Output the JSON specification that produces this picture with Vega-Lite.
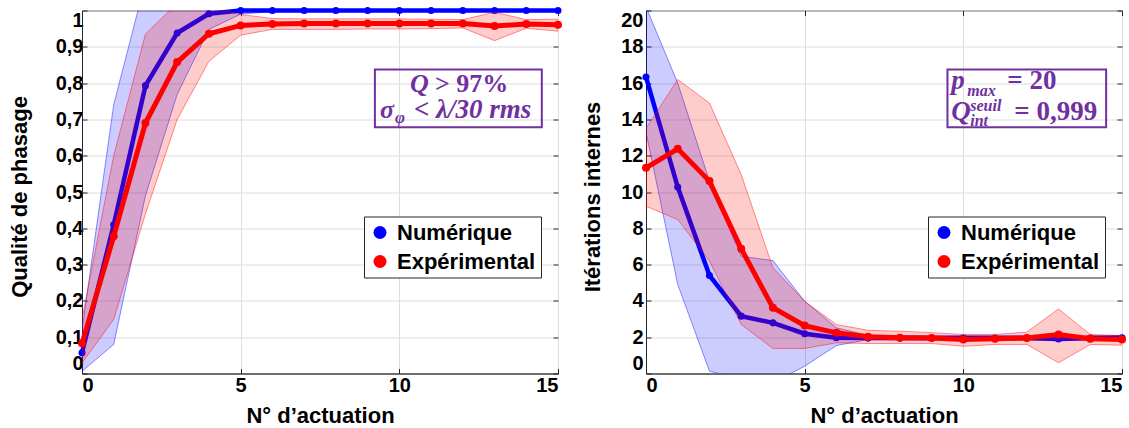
{
  "$schema": "https://vega.github.io/schema/vega-lite/v6.json",
  "background": "white",
  "padding": {"left": 7, "top": 0.5, "right": 0, "bottom": 0},
  "autosize": {"type": "pad"},
  "bounds": "flush",
  "spacing": 88,
  "config": {
    "font": "Liberation Sans",
    "view": {"stroke": "#262626", "strokeWidth": 1},
    "axis": {
      "labelFont": "Liberation Sans", "labelFontWeight": "bold", "labelFontSize": 20, "labelColor": "#000000",
      "titleFont": "Liberation Sans", "titleFontWeight": "bold", "titleFontSize": 22, "titleColor": "#000000",
      "gridColor": "#DEDEDE", "gridWidth": 1, "domainColor": "#262626", "tickColor": "#262626",
      "tickSize": -5, "labelFlush": true, "labelOverlap": false
    },
    "legend": {
      "orient": "none", "legendX": 282, "legendY": 206,
      "labelFont": "Liberation Sans", "labelFontWeight": "bold", "labelFontSize": 22, "labelColor": "#000000",
      "symbolType": "circle", "symbolSize": 169, "symbolStrokeWidth": 0, "symbolOpacity": 1,
      "strokeColor": "#262626", "fillColor": "white", "padding": 5, "rowPadding": 7, "labelOffset": 6, "cornerRadius": 0
    }
  },
  "datasets": {
    "qual": [
      {"serie": "Numérique", "n": 0, "moy": 0.057, "bas": 0.006, "haut": 0.12},
      {"serie": "Numérique", "n": 1, "moy": 0.41, "bas": 0.08, "haut": 0.741},
      {"serie": "Numérique", "n": 2, "moy": 0.793, "bas": 0.49, "haut": 1.08},
      {"serie": "Numérique", "n": 3, "moy": 0.938, "bas": 0.769, "haut": 1.05},
      {"serie": "Numérique", "n": 4, "moy": 0.991, "bas": 0.948, "haut": 1.03},
      {"serie": "Numérique", "n": 5, "moy": 1.0, "bas": 0.99, "haut": 1.01},
      {"serie": "Numérique", "n": 6, "moy": 1.0, "bas": 0.997, "haut": 1.003},
      {"serie": "Numérique", "n": 7, "moy": 1.0, "bas": 0.997, "haut": 1.003},
      {"serie": "Numérique", "n": 8, "moy": 1.0, "bas": 0.997, "haut": 1.003},
      {"serie": "Numérique", "n": 9, "moy": 1.0, "bas": 0.997, "haut": 1.003},
      {"serie": "Numérique", "n": 10, "moy": 1.0, "bas": 0.997, "haut": 1.003},
      {"serie": "Numérique", "n": 11, "moy": 1.0, "bas": 0.997, "haut": 1.003},
      {"serie": "Numérique", "n": 12, "moy": 1.0, "bas": 0.997, "haut": 1.003},
      {"serie": "Numérique", "n": 13, "moy": 1.0, "bas": 0.997, "haut": 1.003},
      {"serie": "Numérique", "n": 14, "moy": 1.0, "bas": 0.997, "haut": 1.003},
      {"serie": "Numérique", "n": 15, "moy": 1.0, "bas": 0.997, "haut": 1.003},
      {"serie": "Expérimental", "n": 0, "moy": 0.083, "bas": 0.029, "haut": 0.15},
      {"serie": "Expérimental", "n": 1, "moy": 0.378, "bas": 0.149, "haut": 0.6},
      {"serie": "Expérimental", "n": 2, "moy": 0.69, "bas": 0.44, "haut": 0.935},
      {"serie": "Expérimental", "n": 3, "moy": 0.858, "bas": 0.7, "haut": 1.02},
      {"serie": "Expérimental", "n": 4, "moy": 0.936, "bas": 0.86, "haut": 1.01},
      {"serie": "Expérimental", "n": 5, "moy": 0.959, "bas": 0.932, "haut": 0.989},
      {"serie": "Expérimental", "n": 6, "moy": 0.963, "bas": 0.948, "haut": 0.978},
      {"serie": "Expérimental", "n": 7, "moy": 0.964, "bas": 0.948, "haut": 0.977},
      {"serie": "Expérimental", "n": 8, "moy": 0.964, "bas": 0.948, "haut": 0.977},
      {"serie": "Expérimental", "n": 9, "moy": 0.964, "bas": 0.949, "haut": 0.977},
      {"serie": "Expérimental", "n": 10, "moy": 0.964, "bas": 0.949, "haut": 0.977},
      {"serie": "Expérimental", "n": 11, "moy": 0.964, "bas": 0.95, "haut": 0.976},
      {"serie": "Expérimental", "n": 12, "moy": 0.964, "bas": 0.952, "haut": 0.975},
      {"serie": "Expérimental", "n": 13, "moy": 0.957, "bas": 0.917, "haut": 0.995},
      {"serie": "Expérimental", "n": 14, "moy": 0.963, "bas": 0.951, "haut": 0.975},
      {"serie": "Expérimental", "n": 15, "moy": 0.961, "bas": 0.943, "haut": 0.976}
    ],
    "iter": [
      {"serie": "Numérique", "n": 0, "moy": 16.33, "bas": 13.3, "haut": 20.2},
      {"serie": "Numérique", "n": 1, "moy": 10.27, "bas": 4.9, "haut": 16.0},
      {"serie": "Numérique", "n": 2, "moy": 5.4, "bas": 0.13, "haut": 10.6},
      {"serie": "Numérique", "n": 3, "moy": 3.16, "bas": -0.3, "haut": 6.46},
      {"serie": "Numérique", "n": 4, "moy": 2.79, "bas": -0.5, "haut": 6.22},
      {"serie": "Numérique", "n": 5, "moy": 2.19, "bas": 0.4, "haut": 3.98},
      {"serie": "Numérique", "n": 6, "moy": 1.97, "bas": 1.54, "haut": 2.52},
      {"serie": "Numérique", "n": 7, "moy": 1.95, "bas": 1.87, "haut": 2.1},
      {"serie": "Numérique", "n": 8, "moy": 1.95, "bas": 1.85, "haut": 2.08},
      {"serie": "Numérique", "n": 9, "moy": 1.95, "bas": 1.85, "haut": 2.08},
      {"serie": "Numérique", "n": 10, "moy": 1.95, "bas": 1.85, "haut": 2.08},
      {"serie": "Numérique", "n": 11, "moy": 1.95, "bas": 1.85, "haut": 2.08},
      {"serie": "Numérique", "n": 12, "moy": 1.95, "bas": 1.85, "haut": 2.08},
      {"serie": "Numérique", "n": 13, "moy": 1.9, "bas": 1.8, "haut": 2.0},
      {"serie": "Numérique", "n": 14, "moy": 1.95, "bas": 1.85, "haut": 2.08},
      {"serie": "Numérique", "n": 15, "moy": 1.97, "bas": 1.85, "haut": 2.1},
      {"serie": "Expérimental", "n": 0, "moy": 11.33, "bas": 9.22, "haut": 13.5},
      {"serie": "Expérimental", "n": 1, "moy": 12.38, "bas": 8.48, "haut": 16.2},
      {"serie": "Expérimental", "n": 2, "moy": 10.6, "bas": 6.2, "haut": 14.9},
      {"serie": "Expérimental", "n": 3, "moy": 6.87, "bas": 2.7, "haut": 10.96},
      {"serie": "Expérimental", "n": 4, "moy": 3.62, "bas": 1.38, "haut": 5.82},
      {"serie": "Expérimental", "n": 5, "moy": 2.64, "bas": 1.38, "haut": 3.98},
      {"serie": "Expérimental", "n": 6, "moy": 2.24, "bas": 1.69, "haut": 2.7},
      {"serie": "Expérimental", "n": 7, "moy": 2.02, "bas": 1.65, "haut": 2.38},
      {"serie": "Expérimental", "n": 8, "moy": 1.97, "bas": 1.65, "haut": 2.33},
      {"serie": "Expérimental", "n": 9, "moy": 1.95, "bas": 1.65, "haut": 2.25},
      {"serie": "Expérimental", "n": 10, "moy": 1.87, "bas": 1.5, "haut": 2.15},
      {"serie": "Expérimental", "n": 11, "moy": 1.92, "bas": 1.6, "haut": 2.15},
      {"serie": "Expérimental", "n": 12, "moy": 1.95, "bas": 1.6, "haut": 2.28},
      {"serie": "Expérimental", "n": 13, "moy": 2.15, "bas": 0.59, "haut": 3.56},
      {"serie": "Expérimental", "n": 14, "moy": 1.91, "bas": 1.6, "haut": 2.15},
      {"serie": "Expérimental", "n": 15, "moy": 1.87, "bas": 1.56, "haut": 2.09}
    ]
  },
  "resolve": {"scale": {"color": "independent"}},
  "hconcat": [
    {
      "width": 476, "height": 363,
      "resolve": {"axis": {"x": "independent", "y": "independent"}},
      "layer": [
        {
          "data": {"name": "qual"},
          "encoding": {
            "x": {"field": "n", "type": "quantitative", "scale": {"domain": [0, 15], "nice": false},
              "axis": {"title": "N° d’actuation", "values": [0, 5, 10, 15], "tickCount": 20, "format": "d", "labelPadding": 7, "titleY": 48.5, "titleBaseline": "alphabetic"}}
          },
          "layer": [
            {
              "transform": [{"filter": "datum.serie === 'Numérique'"}],
              "mark": {"type": "area", "fill": "#0000FF", "fillOpacity": 0.2, "stroke": "#0000FF", "strokeWidth": 0.8, "strokeOpacity": 0.55, "clip": true},
              "encoding": {
                "y": {"field": "haut", "type": "quantitative", "scale": {"domain": [0, 1], "nice": false, "zero": false},
                  "axis": {"title": "Qualité de phasage", "values": [0, 0.1, 0.2, 0.3, 0.4, 0.5, 0.6, 0.7, 0.8, 0.9, 1], "tickCount": 20, "labelOverlap": false,
                    "labelExpr": "replace(format(datum.value, '.1~f'), '.', ',')", "labelPadding": 4,
                    "titleX": -56, "titleY": 186, "titleAngle": 270, "titleBaseline": "alphabetic", "titleAlign": "center"}},
                "y2": {"field": "bas"}
              }
            },
            {
              "transform": [{"filter": "datum.serie === 'Numérique'"}],
              "mark": {"type": "line", "stroke": "#0000FF", "strokeWidth": 4.5},
              "encoding": {"y": {"field": "moy", "type": "quantitative", "title": "Qualité de phasage"}}
            },
            {
              "transform": [{"filter": "datum.serie === 'Numérique'"}],
              "mark": {"type": "point", "shape": "circle", "filled": true, "size": 50, "opacity": 1},
              "encoding": {
                "y": {"field": "moy", "type": "quantitative", "title": "Qualité de phasage"},
                "color": {"field": "serie", "type": "nominal", "scale": {"domain": ["Numérique", "Expérimental"], "range": ["#0000FF", "#FF0000"]}, "legend": {"title": null}}
              }
            },
            {
              "transform": [{"filter": "datum.serie === 'Expérimental'"}],
              "mark": {"type": "area", "fill": "#FF0000", "fillOpacity": 0.2, "stroke": "#FF0000", "strokeWidth": 0.8, "strokeOpacity": 0.55, "clip": true},
              "encoding": {"y": {"field": "haut", "type": "quantitative", "title": "Qualité de phasage"}, "y2": {"field": "bas"}}
            },
            {
              "transform": [{"filter": "datum.serie === 'Expérimental'"}],
              "mark": {"type": "line", "stroke": "#FF0000", "strokeWidth": 5},
              "encoding": {"y": {"field": "moy", "type": "quantitative", "title": "Qualité de phasage"}}
            },
            {
              "transform": [{"filter": "datum.serie === 'Expérimental'"}],
              "mark": {"type": "point", "shape": "circle", "filled": true, "size": 64, "opacity": 1},
              "encoding": {
                "y": {"field": "moy", "type": "quantitative", "title": "Qualité de phasage"},
                "color": {"field": "serie", "type": "nominal", "scale": {"domain": ["Numérique", "Expérimental"], "range": ["#0000FF", "#FF0000"]}, "legend": {"title": null}}
              }
            }
          ]
        },
        {
          "data": {"values": [{}]},
          "mark": {"type": "rect", "fillOpacity": 0, "fill": "white", "stroke": "#7030A0", "strokeWidth": 2},
          "encoding": {
            "x": {"datum": 9.23, "axis": {"orient": "top", "labels": false, "title": null, "grid": false, "domain": false, "values": [0, 5, 10, 15], "tickCount": 20}},
            "x2": {"datum": 14.49},
            "y": {"datum": 0.8375, "axis": {"orient": "right", "labels": false, "title": null, "grid": false, "domain": false, "values": [0, 0.1, 0.2, 0.3, 0.4, 0.5, 0.6, 0.7, 0.8, 0.9, 1], "tickCount": 20}},
            "y2": {"datum": 0.6785}
          }
        },
        {
          "data": {"values": [{}]},
          "mark": {"type": "text", "text": "Q", "font": "Liberation Serif", "fontWeight": "bold", "fontStyle": "italic", "fontSize": 26, "color": "#7030A0", "align": "left", "baseline": "alphabetic", "dx": 30},
          "encoding": {"x": {"datum": 9.39, "axis": null}, "y": {"datum": 0.775, "axis": null}}
        },
        {
          "data": {"values": [{}]},
          "mark": {"type": "text", "text": "> 97%", "font": "Liberation Serif", "fontWeight": "bold", "fontSize": 26, "color": "#7030A0", "align": "left", "baseline": "alphabetic", "dx": 55},
          "encoding": {"x": {"datum": 9.39, "axis": null}, "y": {"datum": 0.775, "axis": null}}
        },
        {
          "data": {"values": [{}]},
          "mark": {"type": "text", "text": "σ", "font": "Liberation Serif", "fontWeight": "bold", "fontStyle": "italic", "fontSize": 26, "color": "#7030A0", "align": "left", "baseline": "alphabetic", "dx": 0},
          "encoding": {"x": {"datum": 9.39, "axis": null}, "y": {"datum": 0.704, "axis": null}}
        },
        {
          "data": {"values": [{}]},
          "mark": {"type": "text", "text": "φ", "font": "Liberation Serif", "fontWeight": "bold", "fontStyle": "italic", "fontSize": 17, "color": "#7030A0", "align": "left", "baseline": "alphabetic", "dx": 15},
          "encoding": {"x": {"datum": 9.39, "axis": null}, "y": {"datum": 0.689, "axis": null}}
        },
        {
          "data": {"values": [{}]},
          "mark": {"type": "text", "text": "< λ/30 rms", "font": "Liberation Serif", "fontWeight": "bold", "fontStyle": "italic", "fontSize": 27, "color": "#7030A0", "align": "left", "baseline": "alphabetic", "dx": 34},
          "encoding": {"x": {"datum": 9.39, "axis": null}, "y": {"datum": 0.704, "axis": null}}
        }
      ]
    },
    {
      "width": 476, "height": 363,
      "resolve": {"axis": {"x": "independent", "y": "independent"}},
      "layer": [
        {
          "data": {"name": "iter"},
          "encoding": {
            "x": {"field": "n", "type": "quantitative", "scale": {"domain": [0, 15], "nice": false},
              "axis": {"title": "N° d’actuation", "values": [0, 5, 10, 15], "tickCount": 20, "format": "d", "labelPadding": 7, "titleY": 48.5, "titleBaseline": "alphabetic"}}
          },
          "layer": [
            {
              "transform": [{"filter": "datum.serie === 'Numérique'"}],
              "mark": {"type": "area", "fill": "#0000FF", "fillOpacity": 0.2, "stroke": "#0000FF", "strokeWidth": 0.8, "strokeOpacity": 0.55, "clip": true},
              "encoding": {
                "y": {"field": "haut", "type": "quantitative", "scale": {"domain": [0, 20], "nice": false, "zero": false},
                  "axis": {"title": "Itérations internes", "values": [0, 2, 4, 6, 8, 10, 12, 14, 16, 18, 20], "tickCount": 20, "labelOverlap": false, "format": "d", "labelPadding": 8,
                    "titleX": -47, "titleY": 186, "titleAngle": 270, "titleBaseline": "alphabetic", "titleAlign": "center"}},
                "y2": {"field": "bas"}
              }
            },
            {
              "transform": [{"filter": "datum.serie === 'Numérique'"}],
              "mark": {"type": "line", "stroke": "#0000FF", "strokeWidth": 4.5},
              "encoding": {"y": {"field": "moy", "type": "quantitative", "title": "Itérations internes"}}
            },
            {
              "transform": [{"filter": "datum.serie === 'Numérique'"}],
              "mark": {"type": "point", "shape": "circle", "filled": true, "size": 50, "opacity": 1},
              "encoding": {
                "y": {"field": "moy", "type": "quantitative", "title": "Itérations internes"},
                "color": {"field": "serie", "type": "nominal", "scale": {"domain": ["Numérique", "Expérimental"], "range": ["#0000FF", "#FF0000"]}, "legend": {"title": null}}
              }
            },
            {
              "transform": [{"filter": "datum.serie === 'Expérimental'"}],
              "mark": {"type": "area", "fill": "#FF0000", "fillOpacity": 0.2, "stroke": "#FF0000", "strokeWidth": 0.8, "strokeOpacity": 0.55, "clip": true},
              "encoding": {"y": {"field": "haut", "type": "quantitative", "title": "Itérations internes"}, "y2": {"field": "bas"}}
            },
            {
              "transform": [{"filter": "datum.serie === 'Expérimental'"}],
              "mark": {"type": "line", "stroke": "#FF0000", "strokeWidth": 5},
              "encoding": {"y": {"field": "moy", "type": "quantitative", "title": "Itérations internes"}}
            },
            {
              "transform": [{"filter": "datum.serie === 'Expérimental'"}],
              "mark": {"type": "point", "shape": "circle", "filled": true, "size": 64, "opacity": 1},
              "encoding": {
                "y": {"field": "moy", "type": "quantitative", "title": "Itérations internes"},
                "color": {"field": "serie", "type": "nominal", "scale": {"domain": ["Numérique", "Expérimental"], "range": ["#0000FF", "#FF0000"]}, "legend": {"title": null}}
              }
            }
          ]
        },
        {
          "data": {"values": [{}]},
          "mark": {"type": "rect", "fillOpacity": 0, "fill": "white", "stroke": "#7030A0", "strokeWidth": 2},
          "encoding": {
            "x": {"datum": 9.5, "axis": {"orient": "top", "labels": false, "title": null, "grid": false, "domain": false, "values": [0, 5, 10, 15], "tickCount": 20}},
            "x2": {"datum": 14.5},
            "y": {"datum": 16.75, "axis": {"orient": "right", "labels": false, "title": null, "grid": false, "domain": false, "values": [0, 2, 4, 6, 8, 10, 12, 14, 16, 18, 20], "tickCount": 20}},
            "y2": {"datum": 13.57}
          }
        },
        {
          "data": {"values": [{}]},
          "mark": {"type": "text", "text": "p", "font": "Liberation Serif", "fontWeight": "bold", "fontStyle": "italic", "fontSize": 27, "color": "#7030A0", "align": "left", "baseline": "alphabetic", "dx": 0},
          "encoding": {"x": {"datum": 9.62, "axis": null}, "y": {"datum": 15.65, "axis": null}}
        },
        {
          "data": {"values": [{}]},
          "mark": {"type": "text", "text": "max", "font": "Liberation Serif", "fontWeight": "bold", "fontStyle": "italic", "fontSize": 16, "color": "#7030A0", "align": "left", "baseline": "alphabetic", "dx": 16},
          "encoding": {"x": {"datum": 9.62, "axis": null}, "y": {"datum": 15.3, "axis": null}}
        },
        {
          "data": {"values": [{}]},
          "mark": {"type": "text", "text": "= 20", "font": "Liberation Serif", "fontWeight": "bold", "fontSize": 27, "color": "#7030A0", "align": "left", "baseline": "alphabetic", "dx": 56},
          "encoding": {"x": {"datum": 9.62, "axis": null}, "y": {"datum": 15.65, "axis": null}}
        },
        {
          "data": {"values": [{}]},
          "mark": {"type": "text", "text": "Q", "font": "Liberation Serif", "fontWeight": "bold", "fontStyle": "italic", "fontSize": 27, "color": "#7030A0", "align": "left", "baseline": "alphabetic", "dx": 0},
          "encoding": {"x": {"datum": 9.62, "axis": null}, "y": {"datum": 13.99, "axis": null}}
        },
        {
          "data": {"values": [{}]},
          "mark": {"type": "text", "text": "seuil", "font": "Liberation Serif", "fontWeight": "bold", "fontStyle": "italic", "fontSize": 16, "color": "#7030A0", "align": "left", "baseline": "alphabetic", "dx": 19},
          "encoding": {"x": {"datum": 9.62, "axis": null}, "y": {"datum": 14.45, "axis": null}}
        },
        {
          "data": {"values": [{}]},
          "mark": {"type": "text", "text": "int", "font": "Liberation Serif", "fontWeight": "bold", "fontStyle": "italic", "fontSize": 16, "color": "#7030A0", "align": "left", "baseline": "alphabetic", "dx": 19},
          "encoding": {"x": {"datum": 9.62, "axis": null}, "y": {"datum": 13.66, "axis": null}}
        },
        {
          "data": {"values": [{}]},
          "mark": {"type": "text", "text": "= 0,999", "font": "Liberation Serif", "fontWeight": "bold", "fontSize": 27, "color": "#7030A0", "align": "left", "baseline": "alphabetic", "dx": 63},
          "encoding": {"x": {"datum": 9.62, "axis": null}, "y": {"datum": 13.99, "axis": null}}
        }
      ]
    }
  ]
}
